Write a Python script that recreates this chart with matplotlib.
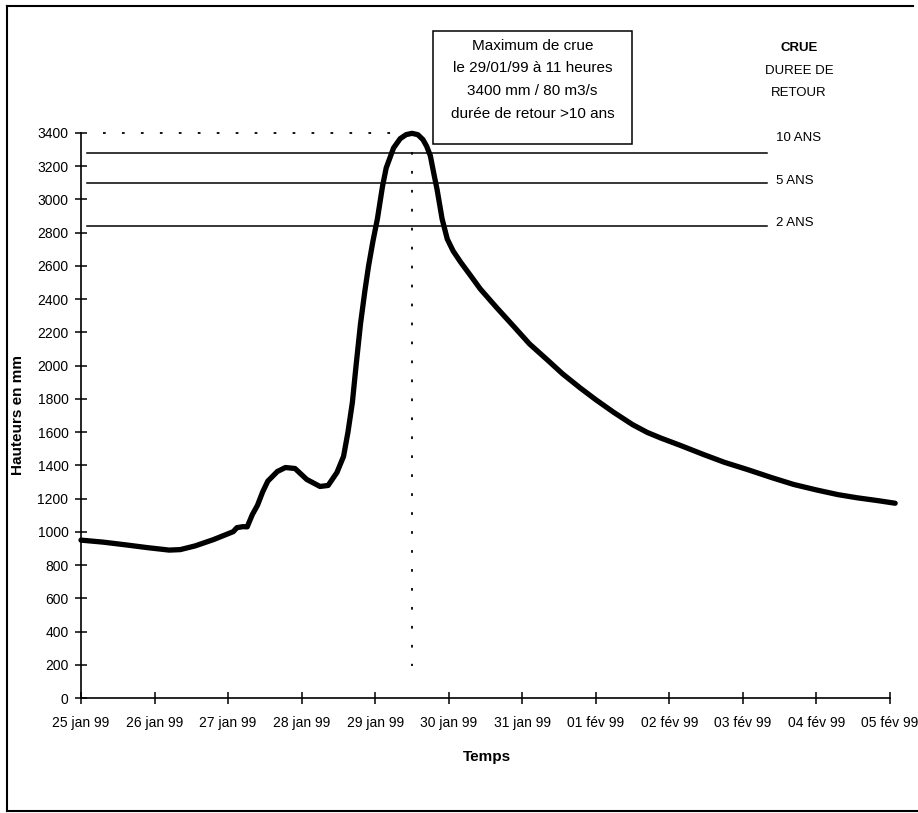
import matplotlib
matplotlib.use("Agg")
import matplotlib.pyplot as plt
from matplotlib.lines import Line2D
from matplotlib.patches import Rectangle

plt.rcParams['font.family'] = ['Liberation Sans', 'DejaVu Sans']

# ---- data ----
days = [0.00, 0.30, 0.60, 0.90, 1.20, 1.35, 1.55, 1.80, 2.07, 2.12, 2.20, 2.26,
        2.33, 2.40, 2.47, 2.54, 2.67, 2.78, 2.91, 3.07, 3.25, 3.36, 3.48, 3.57, 3.63,
        3.69, 3.74, 3.80, 3.86, 3.91, 3.97, 4.03, 4.10, 4.15, 4.25, 4.34, 4.42,
        4.50, 4.58, 4.65, 4.70, 4.75, 4.80, 4.84, 4.91, 4.98, 5.06, 5.16, 5.30,
        5.43, 5.65, 5.88, 6.10, 6.34, 6.55, 6.79, 7.00, 7.24, 7.50, 7.70, 7.88,
        8.15, 8.46, 8.75, 9.06, 9.40, 9.69, 10.00, 10.29, 10.55, 10.83, 11.07]
heights = [950, 938, 922, 905, 890, 893, 915, 953, 1001, 1025, 1031, 1030,
           1104, 1160, 1240, 1305, 1363, 1387, 1381, 1315, 1273, 1279, 1357, 1454, 1600,
           1779, 2000, 2250, 2450, 2600, 2750, 2883, 3080, 3190, 3310, 3366, 3390,
           3398, 3390, 3360, 3320, 3263, 3150, 3064, 2883, 2762, 2690, 2624, 2540,
           2461, 2350, 2238, 2130, 2035, 1950, 1865, 1795, 1720, 1645, 1598, 1565,
           1520, 1466, 1418, 1375, 1325, 1285, 1252, 1224, 1205, 1188, 1172]

tick_labels = ["25 jan 99", "26 jan 99", "27 jan 99", "28 jan 99", "29 jan 99",
               "30 jan 99", "31 jan 99", "01 fév 99", "02 fév 99", "03 fév 99",
               "04 fév 99", "05 fév 99"]
yticks = list(range(0, 3401, 200))

return_levels = [3280, 3100, 2840]
return_labels = ["10 ANS", "5 ANS", "2 ANS"]

peak_day = 4.5
peak_value = 3400
annot_lines = ["Maximum de crue", "le 29/01/99 à 11 heures",
               "3400 mm / 80 m3/s", "durée de retour >10 ans"]

# ---- figure ----
W, H = 918, 813
fig = plt.figure(figsize=(W / 100, H / 100), dpi=100)

def fx(px):
    return px / W

def fy(py):
    return 1 - py / H

ax = fig.add_axes([fx(81), fy(698), fx(890) - fx(81), fy(133) - fy(698)])
ax.set_xlim(0, 11)
ax.set_ylim(0, 3400)

for s in ['top', 'right']:
    ax.spines[s].set_visible(False)
for s in ['left', 'bottom']:
    ax.spines[s].set_linewidth(1.2)

ax.set_xticks(range(len(tick_labels)))
ax.set_xticklabels(tick_labels, fontsize=10)
ax.set_yticks(yticks)
ax.set_yticklabels([str(v) for v in yticks], fontsize=10)
ax.tick_params(axis='both', direction='inout', length=8, width=1.1)
ax.tick_params(axis='y', pad=5)
ax.tick_params(axis='x', pad=9)

# return-period lines
for lvl in return_levels:
    ax.plot([0.08, 9.33], [lvl, lvl], color='black', lw=1.1, clip_on=False)

# dotted guides to the maximum
ax.plot([0.3, peak_day], [peak_value, peak_value], color='black', lw=1.3,
        linestyle=(0, (1.5, 9)), clip_on=False)
ax.plot([peak_day, peak_day], [peak_value, 195], color='black', lw=1.3,
        linestyle=(0, (1.5, 9)), clip_on=False)

# hydrograph
ax.plot(days, heights, color='black', lw=3.8, solid_joinstyle='round',
        solid_capstyle='round', clip_on=False)

# axis titles
fig.text(fx(18), fy(415), "Hauteurs en mm", rotation=90, ha='center', va='center',
         fontsize=11, fontweight='bold')
fig.text(fx(487), fy(757), "Temps", ha='center', va='center',
         fontsize=11, fontweight='bold')

# annotation box
fig.add_artist(Rectangle((fx(433), fy(144)), fx(632) - fx(433), fy(31) - fy(144),
                         transform=fig.transFigure, fill=False, lw=1.1,
                         edgecolor='black'))
for i, t in enumerate(annot_lines):
    fig.text(fx(532.5), fy(46 + 22.5 * i), t, ha='center', va='center', fontsize=11)

# right side legend texts
fig.text(fx(799), fy(48), "CRUE", ha='center', va='center', fontsize=9.5, fontweight='bold')
fig.text(fx(799), fy(71), "DUREE DE", ha='center', va='center', fontsize=9.5)
fig.text(fx(799), fy(93), "RETOUR", ha='center', va='center', fontsize=9.5)
for lbl, py in zip(return_labels, [138, 181, 223]):
    fig.text(fx(776), fy(py), lbl, ha='left', va='center', fontsize=9.5)

# outer frame (left, top, bottom)
fig.add_artist(Line2D([fx(7), fx(7)], [fy(6), fy(811)], transform=fig.transFigure,
                      color='black', lw=1.5))
fig.add_artist(Line2D([fx(7), fx(913)], [fy(6), fy(6)], transform=fig.transFigure,
                      color='black', lw=1.5))
fig.add_artist(Line2D([fx(7), fx(918)], [fy(811), fy(811)], transform=fig.transFigure,
                      color='black', lw=1.5))

fig.savefig("out.png", dpi=100)
